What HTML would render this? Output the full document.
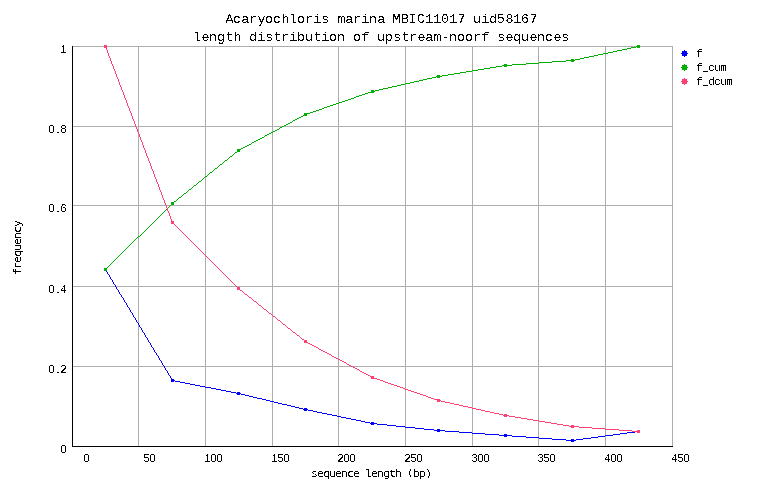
<!DOCTYPE html>
<html lang="en">
<head>
<meta charset="utf-8">
<title>Acaryochloris marina MBIC11017 uid58167 - length distribution of upstream-noorf sequences</title>
<style>
html,body{margin:0;padding:0;background:#fff}
svg{display:block}
text{fill:#000;white-space:pre}
.t{font-family:"Liberation Mono","DejaVu Sans Mono",monospace;font-size:13.333px}
.s{font-family:"DejaVu Sans Mono","Liberation Mono",monospace;font-size:10.5px}
.l{font-family:"Liberation Mono","DejaVu Sans Mono",monospace;font-size:11px}
.d{font-family:"Liberation Sans","DejaVu Sans",sans-serif;font-size:11px}
</style>
</head>
<body>
<svg width="762" height="498" viewBox="0 0 762 498" shape-rendering="crispEdges">
<defs><filter id="ft" x="0" y="0" width="762" height="498" filterUnits="userSpaceOnUse" color-interpolation-filters="sRGB"><feComponentTransfer><feFuncA type="discrete" tableValues="0 0 0 0 0 0 0 0 0 0 1 1 1 1 1 1 1 1 1 1"/></feComponentTransfer></filter><filter id="fs" x="0" y="0" width="762" height="498" filterUnits="userSpaceOnUse" color-interpolation-filters="sRGB"><feComponentTransfer><feFuncA type="discrete" tableValues="0 0 0 0 0 0 0 0 0 0 1 1 1 1 1 1 1 1 1 1"/></feComponentTransfer></filter><filter id="fd" x="0" y="0" width="762" height="498" filterUnits="userSpaceOnUse" color-interpolation-filters="sRGB"><feComponentTransfer><feFuncA type="discrete" tableValues="0 0 0 0 0 0 0 0 0 1 1 1 1 1 1 1 1 1 1 1"/></feComponentTransfer></filter></defs>
<rect width="762" height="498" fill="#fff"/>
<!-- grid -->
<path d="M138 46h1v400h-1zM205 46h1v400h-1zM272 46h1v400h-1zM338 46h1v400h-1zM405 46h1v400h-1zM472 46h1v400h-1zM538 46h1v400h-1zM605 46h1v400h-1zM672 46h1v400h-1zM73 46h600v1h-600zM73 126h600v1h-600zM73 205h600v1h-600zM73 286h600v1h-600zM73 366h600v1h-600z" fill="#adadad"/>
<!-- series: f, f_cum, f_dcum -->
<path d="M104 268h3v1h-3zM104 269h3v1h-3zM104 270h3v1h-3zM106 271h1v1h-1zM107 272h1v1h-1zM107 273h1v1h-1zM108 274h1v1h-1zM109 275h1v1h-1zM109 276h1v1h-1zM110 277h1v1h-1zM110 278h1v1h-1zM111 279h1v1h-1zM112 280h1v1h-1zM112 281h1v1h-1zM113 282h1v1h-1zM113 283h1v1h-1zM114 284h1v1h-1zM115 285h1v1h-1zM115 286h1v1h-1zM116 287h1v1h-1zM116 288h1v1h-1zM117 289h1v1h-1zM118 290h1v1h-1zM118 291h1v1h-1zM119 292h1v1h-1zM119 293h1v1h-1zM120 294h1v1h-1zM121 295h1v1h-1zM121 296h1v1h-1zM122 297h1v1h-1zM123 298h1v1h-1zM123 299h1v1h-1zM124 300h1v1h-1zM124 301h1v1h-1zM125 302h1v1h-1zM126 303h1v1h-1zM126 304h1v1h-1zM127 305h1v1h-1zM127 306h1v1h-1zM128 307h1v1h-1zM129 308h1v1h-1zM129 309h1v1h-1zM130 310h1v1h-1zM130 311h1v1h-1zM131 312h1v1h-1zM132 313h1v1h-1zM132 314h1v1h-1zM133 315h1v1h-1zM133 316h1v1h-1zM134 317h1v1h-1zM135 318h1v1h-1zM135 319h1v1h-1zM136 320h1v1h-1zM136 321h1v1h-1zM137 322h1v1h-1zM138 323h1v1h-1zM138 324h1v1h-1zM139 325h1v1h-1zM139 326h1v1h-1zM140 327h1v1h-1zM141 328h1v1h-1zM141 329h1v1h-1zM142 330h1v1h-1zM142 331h1v1h-1zM143 332h1v1h-1zM144 333h1v1h-1zM144 334h1v1h-1zM145 335h1v1h-1zM145 336h1v1h-1zM146 337h1v1h-1zM147 338h1v1h-1zM147 339h1v1h-1zM148 340h1v1h-1zM148 341h1v1h-1zM149 342h1v1h-1zM150 343h1v1h-1zM150 344h1v1h-1zM151 345h1v1h-1zM151 346h1v1h-1zM152 347h1v1h-1zM153 348h1v1h-1zM153 349h1v1h-1zM154 350h1v1h-1zM154 351h1v1h-1zM155 352h1v1h-1zM156 353h1v1h-1zM156 354h1v1h-1zM157 355h1v1h-1zM158 356h1v1h-1zM158 357h1v1h-1zM159 358h1v1h-1zM159 359h1v1h-1zM160 360h1v1h-1zM161 361h1v1h-1zM161 362h1v1h-1zM162 363h1v1h-1zM162 364h1v1h-1zM163 365h1v1h-1zM164 366h1v1h-1zM164 367h1v1h-1zM165 368h1v1h-1zM165 369h1v1h-1zM166 370h1v1h-1zM167 371h1v1h-1zM167 372h1v1h-1zM168 373h1v1h-1zM168 374h1v1h-1zM169 375h1v1h-1zM170 376h1v1h-1zM170 377h1v1h-1zM171 378h1v1h-1zM171 379h3v1h-3zM171 380h4v1h-4zM171 381h3v1h-3zM175 381h5v1h-5zM180 382h5v1h-5zM185 383h5v1h-5zM190 384h5v1h-5zM195 385h5v1h-5zM200 386h5v1h-5zM205 387h6v1h-6zM211 388h5v1h-5zM216 389h5v1h-5zM221 390h5v1h-5zM226 391h5v1h-5zM231 392h5v1h-5zM237 392h3v1h-3zM236 393h5v1h-5zM237 394h3v1h-3zM241 394h4v1h-4zM245 395h4v1h-4zM249 396h4v1h-4zM253 397h4v1h-4zM257 398h5v1h-5zM262 399h4v1h-4zM266 400h4v1h-4zM270 401h4v1h-4zM274 402h4v1h-4zM278 403h4v1h-4zM282 404h5v1h-5zM287 405h4v1h-4zM291 406h4v1h-4zM295 407h4v1h-4zM299 408h4v1h-4zM304 408h3v1h-3zM303 409h5v1h-5zM304 410h3v1h-3zM308 410h5v1h-5zM313 411h4v1h-4zM317 412h5v1h-5zM322 413h5v1h-5zM327 414h5v1h-5zM332 415h5v1h-5zM337 416h4v1h-4zM341 417h5v1h-5zM346 418h5v1h-5zM351 419h5v1h-5zM356 420h5v1h-5zM361 421h4v1h-4zM365 422h5v1h-5zM371 422h3v1h-3zM370 423h7v1h-7zM371 424h3v1h-3zM377 424h10v1h-10zM387 425h9v1h-9zM396 426h9v1h-9zM405 427h10v1h-10zM415 428h9v1h-9zM424 429h10v1h-10zM437 429h3v1h-3zM434 430h11v1h-11zM637 430h3v1h-3zM437 431h3v1h-3zM445 431h14v1h-14zM635 431h5v1h-5zM459 432h13v1h-13zM627 432h8v1h-8zM637 432h3v1h-3zM472 433h13v1h-13zM620 433h7v1h-7zM485 434h14v1h-14zM504 434h3v1h-3zM613 434h7v1h-7zM499 435h13v1h-13zM605 435h8v1h-8zM504 436h3v1h-3zM512 436h14v1h-14zM598 436h7v1h-7zM526 437h13v1h-13zM591 437h7v1h-7zM539 438h13v1h-13zM583 438h8v1h-8zM552 439h14v1h-14zM571 439h3v1h-3zM576 439h7v1h-7zM566 440h10v1h-10zM571 441h3v1h-3z" fill="#0000ff"/>
<path d="M637 45h3v1h-3zM636 46h4v1h-4zM631 47h5v1h-5zM637 47h3v1h-3zM627 48h4v1h-4zM622 49h5v1h-5zM617 50h5v1h-5zM613 51h4v1h-4zM608 52h5v1h-5zM603 53h5v1h-5zM598 54h5v1h-5zM594 55h4v1h-4zM589 56h5v1h-5zM584 57h5v1h-5zM580 58h4v1h-4zM571 59h3v1h-3zM575 59h5v1h-5zM566 60h9v1h-9zM552 61h14v1h-14zM571 61h3v1h-3zM539 62h13v1h-13zM526 63h13v1h-13zM504 64h3v1h-3zM512 64h14v1h-14zM502 65h10v1h-10zM496 66h6v1h-6zM504 66h3v1h-3zM490 67h6v1h-6zM484 68h6v1h-6zM478 69h6v1h-6zM472 70h6v1h-6zM466 71h6v1h-6zM460 72h6v1h-6zM454 73h6v1h-6zM448 74h6v1h-6zM437 75h3v1h-3zM442 75h6v1h-6zM436 76h6v1h-6zM432 77h4v1h-4zM437 77h3v1h-3zM427 78h5v1h-5zM423 79h4v1h-4zM419 80h4v1h-4zM414 81h5v1h-5zM410 82h4v1h-4zM405 83h5v1h-5zM401 84h4v1h-4zM397 85h4v1h-4zM392 86h5v1h-5zM388 87h4v1h-4zM383 88h5v1h-5zM379 89h4v1h-4zM371 90h3v1h-3zM375 90h4v1h-4zM371 91h4v1h-4zM368 92h6v1h-6zM365 93h3v1h-3zM362 94h3v1h-3zM359 95h3v1h-3zM356 96h3v1h-3zM354 97h2v1h-2zM351 98h3v1h-3zM348 99h3v1h-3zM345 100h3v1h-3zM342 101h3v1h-3zM339 102h3v1h-3zM336 103h3v1h-3zM333 104h3v1h-3zM330 105h3v1h-3zM327 106h3v1h-3zM324 107h3v1h-3zM322 108h2v1h-2zM319 109h3v1h-3zM316 110h3v1h-3zM313 111h3v1h-3zM310 112h3v1h-3zM304 113h6v1h-6zM304 114h3v1h-3zM303 115h4v1h-4zM301 116h2v1h-2zM299 117h2v1h-2zM297 118h2v1h-2zM295 119h2v1h-2zM293 120h2v1h-2zM292 121h1v1h-1zM290 122h2v1h-2zM288 123h2v1h-2zM286 124h2v1h-2zM284 125h2v1h-2zM282 126h2v1h-2zM280 127h2v1h-2zM279 128h1v1h-1zM277 129h2v1h-2zM275 130h2v1h-2zM273 131h2v1h-2zM271 132h2v1h-2zM269 133h2v1h-2zM267 134h2v1h-2zM265 135h2v1h-2zM264 136h1v1h-1zM262 137h2v1h-2zM260 138h2v1h-2zM258 139h2v1h-2zM256 140h2v1h-2zM254 141h2v1h-2zM252 142h2v1h-2zM251 143h1v1h-1zM249 144h2v1h-2zM247 145h2v1h-2zM245 146h2v1h-2zM243 147h2v1h-2zM241 148h2v1h-2zM237 149h4v1h-4zM237 150h3v1h-3zM237 151h3v1h-3zM235 152h2v1h-2zM234 153h1v1h-1zM233 154h1v1h-1zM232 155h1v1h-1zM230 156h2v1h-2zM229 157h1v1h-1zM228 158h1v1h-1zM227 159h1v1h-1zM225 160h2v1h-2zM224 161h1v1h-1zM223 162h1v1h-1zM222 163h1v1h-1zM220 164h2v1h-2zM219 165h1v1h-1zM218 166h1v1h-1zM217 167h1v1h-1zM215 168h2v1h-2zM214 169h1v1h-1zM213 170h1v1h-1zM212 171h1v1h-1zM210 172h2v1h-2zM209 173h1v1h-1zM208 174h1v1h-1zM207 175h1v1h-1zM205 176h2v1h-2zM204 177h1v1h-1zM203 178h1v1h-1zM202 179h1v1h-1zM201 180h1v1h-1zM199 181h2v1h-2zM198 182h1v1h-1zM197 183h1v1h-1zM196 184h1v1h-1zM194 185h2v1h-2zM193 186h1v1h-1zM192 187h1v1h-1zM191 188h1v1h-1zM189 189h2v1h-2zM188 190h1v1h-1zM187 191h1v1h-1zM186 192h1v1h-1zM184 193h2v1h-2zM183 194h1v1h-1zM182 195h1v1h-1zM181 196h1v1h-1zM179 197h2v1h-2zM178 198h1v1h-1zM177 199h1v1h-1zM176 200h1v1h-1zM174 201h2v1h-2zM171 202h3v1h-3zM171 203h3v1h-3zM171 204h3v1h-3zM170 205h1v1h-1zM169 206h1v1h-1zM168 207h1v1h-1zM167 208h1v1h-1zM166 209h1v1h-1zM165 210h1v1h-1zM164 211h1v1h-1zM163 212h1v1h-1zM162 213h1v1h-1zM161 214h1v1h-1zM160 215h1v1h-1zM159 216h1v1h-1zM158 217h1v1h-1zM157 218h1v1h-1zM156 219h1v1h-1zM155 220h1v1h-1zM154 221h1v1h-1zM153 222h1v1h-1zM152 223h1v1h-1zM151 224h1v1h-1zM150 225h1v1h-1zM149 226h1v1h-1zM148 227h1v1h-1zM147 228h1v1h-1zM146 229h1v1h-1zM145 230h1v1h-1zM144 231h1v1h-1zM143 232h1v1h-1zM142 233h1v1h-1zM141 234h1v1h-1zM140 235h1v1h-1zM138 236h2v1h-2zM137 237h1v1h-1zM136 238h1v1h-1zM135 239h1v1h-1zM134 240h1v1h-1zM133 241h1v1h-1zM132 242h1v1h-1zM131 243h1v1h-1zM130 244h1v1h-1zM129 245h1v1h-1zM128 246h1v1h-1zM127 247h1v1h-1zM126 248h1v1h-1zM125 249h1v1h-1zM124 250h1v1h-1zM123 251h1v1h-1zM122 252h1v1h-1zM121 253h1v1h-1zM120 254h1v1h-1zM119 255h1v1h-1zM118 256h1v1h-1zM117 257h1v1h-1zM116 258h1v1h-1zM115 259h1v1h-1zM114 260h1v1h-1zM113 261h1v1h-1zM112 262h1v1h-1zM111 263h1v1h-1zM110 264h1v1h-1zM109 265h1v1h-1zM108 266h1v1h-1zM107 267h1v1h-1zM104 268h3v1h-3zM104 269h3v1h-3zM104 270h3v1h-3z" fill="#00b000"/>
<path d="M104 45h3v1h-3zM104 46h3v1h-3zM104 47h3v1h-3zM106 48h1v1h-1zM106 49h1v1h-1zM107 50h1v1h-1zM107 51h1v1h-1zM107 52h1v1h-1zM108 53h1v1h-1zM108 54h1v1h-1zM108 55h1v1h-1zM109 56h1v1h-1zM109 57h1v1h-1zM110 58h1v1h-1zM110 59h1v1h-1zM110 60h1v1h-1zM111 61h1v1h-1zM111 62h1v1h-1zM111 63h1v1h-1zM112 64h1v1h-1zM112 65h1v1h-1zM113 66h1v1h-1zM113 67h1v1h-1zM113 68h1v1h-1zM114 69h1v1h-1zM114 70h1v1h-1zM115 71h1v1h-1zM115 72h1v1h-1zM115 73h1v1h-1zM116 74h1v1h-1zM116 75h1v1h-1zM116 76h1v1h-1zM117 77h1v1h-1zM117 78h1v1h-1zM118 79h1v1h-1zM118 80h1v1h-1zM118 81h1v1h-1zM119 82h1v1h-1zM119 83h1v1h-1zM119 84h1v1h-1zM120 85h1v1h-1zM120 86h1v1h-1zM121 87h1v1h-1zM121 88h1v1h-1zM121 89h1v1h-1zM122 90h1v1h-1zM122 91h1v1h-1zM123 92h1v1h-1zM123 93h1v1h-1zM123 94h1v1h-1zM124 95h1v1h-1zM124 96h1v1h-1zM124 97h1v1h-1zM125 98h1v1h-1zM125 99h1v1h-1zM126 100h1v1h-1zM126 101h1v1h-1zM126 102h1v1h-1zM127 103h1v1h-1zM127 104h1v1h-1zM127 105h1v1h-1zM128 106h1v1h-1zM128 107h1v1h-1zM129 108h1v1h-1zM129 109h1v1h-1zM129 110h1v1h-1zM130 111h1v1h-1zM130 112h1v1h-1zM131 113h1v1h-1zM131 114h1v1h-1zM131 115h1v1h-1zM132 116h1v1h-1zM132 117h1v1h-1zM132 118h1v1h-1zM133 119h1v1h-1zM133 120h1v1h-1zM134 121h1v1h-1zM134 122h1v1h-1zM134 123h1v1h-1zM135 124h1v1h-1zM135 125h1v1h-1zM135 126h1v1h-1zM136 127h1v1h-1zM136 128h1v1h-1zM137 129h1v1h-1zM137 130h1v1h-1zM137 131h1v1h-1zM138 132h1v1h-1zM138 133h1v1h-1zM139 134h1v1h-1zM139 135h1v1h-1zM139 136h1v1h-1zM140 137h1v1h-1zM140 138h1v1h-1zM140 139h1v1h-1zM141 140h1v1h-1zM141 141h1v1h-1zM142 142h1v1h-1zM142 143h1v1h-1zM142 144h1v1h-1zM143 145h1v1h-1zM143 146h1v1h-1zM143 147h1v1h-1zM144 148h1v1h-1zM144 149h1v1h-1zM145 150h1v1h-1zM145 151h1v1h-1zM145 152h1v1h-1zM146 153h1v1h-1zM146 154h1v1h-1zM146 155h1v1h-1zM147 156h1v1h-1zM147 157h1v1h-1zM148 158h1v1h-1zM148 159h1v1h-1zM148 160h1v1h-1zM149 161h1v1h-1zM149 162h1v1h-1zM150 163h1v1h-1zM150 164h1v1h-1zM150 165h1v1h-1zM151 166h1v1h-1zM151 167h1v1h-1zM151 168h1v1h-1zM152 169h1v1h-1zM152 170h1v1h-1zM153 171h1v1h-1zM153 172h1v1h-1zM153 173h1v1h-1zM154 174h1v1h-1zM154 175h1v1h-1zM154 176h1v1h-1zM155 177h1v1h-1zM155 178h1v1h-1zM156 179h1v1h-1zM156 180h1v1h-1zM156 181h1v1h-1zM157 182h1v1h-1zM157 183h1v1h-1zM158 184h1v1h-1zM158 185h1v1h-1zM158 186h1v1h-1zM159 187h1v1h-1zM159 188h1v1h-1zM159 189h1v1h-1zM160 190h1v1h-1zM160 191h1v1h-1zM161 192h1v1h-1zM161 193h1v1h-1zM161 194h1v1h-1zM162 195h1v1h-1zM162 196h1v1h-1zM162 197h1v1h-1zM163 198h1v1h-1zM163 199h1v1h-1zM164 200h1v1h-1zM164 201h1v1h-1zM164 202h1v1h-1zM165 203h1v1h-1zM165 204h1v1h-1zM166 205h1v1h-1zM166 206h1v1h-1zM166 207h1v1h-1zM167 208h1v1h-1zM167 209h1v1h-1zM167 210h1v1h-1zM168 211h1v1h-1zM168 212h1v1h-1zM169 213h1v1h-1zM169 214h1v1h-1zM169 215h1v1h-1zM170 216h1v1h-1zM170 217h1v1h-1zM170 218h1v1h-1zM171 219h1v1h-1zM171 220h1v1h-1zM171 221h3v1h-3zM171 222h3v1h-3zM171 223h3v1h-3zM174 224h1v1h-1zM175 225h1v1h-1zM176 226h1v1h-1zM177 227h1v1h-1zM178 228h1v1h-1zM179 229h1v1h-1zM180 230h1v1h-1zM181 231h1v1h-1zM182 232h1v1h-1zM183 233h1v1h-1zM184 234h1v1h-1zM185 235h1v1h-1zM186 236h1v1h-1zM187 237h1v1h-1zM188 238h1v1h-1zM189 239h1v1h-1zM190 240h1v1h-1zM191 241h1v1h-1zM192 242h1v1h-1zM193 243h1v1h-1zM194 244h1v1h-1zM195 245h1v1h-1zM196 246h1v1h-1zM197 247h1v1h-1zM198 248h1v1h-1zM199 249h1v1h-1zM200 250h1v1h-1zM201 251h1v1h-1zM202 252h1v1h-1zM203 253h1v1h-1zM204 254h1v1h-1zM205 255h1v1h-1zM206 256h1v1h-1zM207 257h1v1h-1zM208 258h1v1h-1zM209 259h1v1h-1zM210 260h1v1h-1zM211 261h1v1h-1zM212 262h1v1h-1zM213 263h1v1h-1zM214 264h1v1h-1zM215 265h1v1h-1zM216 266h1v1h-1zM217 267h1v1h-1zM218 268h1v1h-1zM219 269h1v1h-1zM220 270h1v1h-1zM221 271h1v1h-1zM222 272h1v1h-1zM223 273h1v1h-1zM224 274h1v1h-1zM225 275h1v1h-1zM226 276h1v1h-1zM227 277h1v1h-1zM228 278h1v1h-1zM229 279h1v1h-1zM230 280h1v1h-1zM231 281h1v1h-1zM232 282h1v1h-1zM233 283h1v1h-1zM234 284h1v1h-1zM235 285h1v1h-1zM236 286h1v1h-1zM237 287h3v1h-3zM237 288h3v1h-3zM237 289h3v1h-3zM240 290h2v1h-2zM242 291h1v1h-1zM243 292h1v1h-1zM244 293h1v1h-1zM245 294h2v1h-2zM247 295h1v1h-1zM248 296h1v1h-1zM249 297h2v1h-2zM251 298h1v1h-1zM252 299h1v1h-1zM253 300h1v1h-1zM254 301h2v1h-2zM256 302h1v1h-1zM257 303h1v1h-1zM258 304h1v1h-1zM259 305h2v1h-2zM261 306h1v1h-1zM262 307h1v1h-1zM263 308h1v1h-1zM264 309h2v1h-2zM266 310h1v1h-1zM267 311h1v1h-1zM268 312h1v1h-1zM269 313h2v1h-2zM271 314h1v1h-1zM272 315h1v1h-1zM273 316h2v1h-2zM275 317h1v1h-1zM276 318h1v1h-1zM277 319h1v1h-1zM278 320h2v1h-2zM280 321h1v1h-1zM281 322h1v1h-1zM282 323h1v1h-1zM283 324h2v1h-2zM285 325h1v1h-1zM286 326h1v1h-1zM287 327h1v1h-1zM288 328h2v1h-2zM290 329h1v1h-1zM291 330h1v1h-1zM292 331h1v1h-1zM293 332h2v1h-2zM295 333h1v1h-1zM296 334h1v1h-1zM297 335h2v1h-2zM299 336h1v1h-1zM300 337h1v1h-1zM301 338h1v1h-1zM302 339h2v1h-2zM304 340h3v1h-3zM304 341h3v1h-3zM304 342h4v1h-4zM308 343h2v1h-2zM310 344h2v1h-2zM312 345h2v1h-2zM314 346h2v1h-2zM316 347h2v1h-2zM318 348h1v1h-1zM319 349h2v1h-2zM321 350h2v1h-2zM323 351h2v1h-2zM325 352h2v1h-2zM327 353h2v1h-2zM329 354h2v1h-2zM331 355h1v1h-1zM332 356h2v1h-2zM334 357h2v1h-2zM336 358h2v1h-2zM338 359h2v1h-2zM340 360h2v1h-2zM342 361h2v1h-2zM344 362h2v1h-2zM346 363h1v1h-1zM347 364h2v1h-2zM349 365h2v1h-2zM351 366h2v1h-2zM353 367h2v1h-2zM355 368h2v1h-2zM357 369h2v1h-2zM359 370h1v1h-1zM360 371h2v1h-2zM362 372h2v1h-2zM364 373h2v1h-2zM366 374h2v1h-2zM368 375h2v1h-2zM370 376h4v1h-4zM371 377h3v1h-3zM371 378h6v1h-6zM377 379h3v1h-3zM380 380h3v1h-3zM383 381h2v1h-2zM385 382h3v1h-3zM388 383h3v1h-3zM391 384h3v1h-3zM394 385h3v1h-3zM397 386h3v1h-3zM400 387h3v1h-3zM403 388h2v1h-2zM405 389h3v1h-3zM408 390h3v1h-3zM411 391h3v1h-3zM414 392h3v1h-3zM417 393h3v1h-3zM420 394h3v1h-3zM423 395h3v1h-3zM426 396h2v1h-2zM428 397h3v1h-3zM431 398h3v1h-3zM434 399h6v1h-6zM437 400h4v1h-4zM437 401h3v1h-3zM441 401h4v1h-4zM445 402h5v1h-5zM450 403h4v1h-4zM454 404h5v1h-5zM459 405h4v1h-4zM463 406h5v1h-5zM468 407h4v1h-4zM472 408h4v1h-4zM476 409h5v1h-5zM481 410h4v1h-4zM485 411h5v1h-5zM490 412h4v1h-4zM494 413h5v1h-5zM499 414h4v1h-4zM504 414h3v1h-3zM503 415h6v1h-6zM504 416h3v1h-3zM509 416h6v1h-6zM515 417h6v1h-6zM521 418h6v1h-6zM527 419h6v1h-6zM533 420h6v1h-6zM539 421h6v1h-6zM545 422h6v1h-6zM551 423h6v1h-6zM557 424h6v1h-6zM563 425h6v1h-6zM571 425h3v1h-3zM569 426h10v1h-10zM571 427h3v1h-3zM579 427h13v1h-13zM592 428h13v1h-13zM605 429h14v1h-14zM619 430h13v1h-13zM637 430h3v1h-3zM632 431h8v1h-8zM637 432h3v1h-3z" fill="#ff4070"/>
<!-- axes -->
<path d="M72 46h1v400h-1zM72 446h601v1h-601z" fill="#000"/>
<!-- title -->
<g filter="url(#ft)">
<text class="t" x="225.6 233.1 241.35 249.1 257.6 265.1 273.1 281.6 289.1 297.1 305.1 313.35 321.35 329.1 337.6 345.35 353.1 361.35 369.1 377.35 385.1 392.6 401.1 408.85 417.1 425.35 433.35 441.1 449.35 457.6 465.1 473.1 481.35 489.35 496.85 505.6 513.35 521.1 529.6" y="23">Acaryochloris marina MBIC11017 uid58167</text>
<text class="t" x="193.1 201.6 209.1 217.1 225.6 233.6 241.1 249.35 257.35 265.35 273.6 281.1 289.35 297.1 305.1 313.6 321.35 329.1 337.1 345.1 353.1 361.6 369.1 377.1 384.85 393.35 401.6 409.1 417.6 425.35 433.6 441.6 449.1 457.1 465.1 473.1 481.6 489.1 497.35 505.6 513.35 521.1 529.6 537.1 545.1 553.6 561.35" y="41">length distribution of upstream-noorf sequences</text>
</g>
<!-- tick labels -->
<g filter="url(#fd)">
<text class="d" x="60.6" y="53">1</text>
<text class="d" x="48.6 56.6 60.6" y="133">0.8</text>
<text class="d" x="48.6 56.6 60.6" y="212">0.6</text>
<text class="d" x="48.6 56.6 60.6" y="293">0.4</text>
<text class="d" x="48.6 56.6 60.6" y="373">0.2</text>
<text class="d" x="60.6" y="453">0</text>
<text class="d" x="83.6" y="462">0</text>
<text class="d" x="143.6 149.6" y="462">50</text>
<text class="d" x="204.6 210.6 216.6" y="462">100</text>
<text class="d" x="271.6 277.6 283.6" y="462">150</text>
<text class="d" x="337.6 343.6 349.6" y="462">200</text>
<text class="d" x="404.6 410.6 416.6" y="462">250</text>
<text class="d" x="471.6 477.6 483.6" y="462">300</text>
<text class="d" x="537.6 543.6 549.6" y="462">350</text>
<text class="d" x="604.6 610.6 616.6" y="462">400</text>
<text class="d" x="671.6 677.6 683.6" y="462">450</text>
</g>
<!-- axis titles and legend -->
<g filter="url(#fs)">
<text class="s" transform="scale(1.1 1)" x="282.818 288.273 293.955 299.182 304.636 310.091 315.545 321 326.455 331.909 337.364 342.818 348.5 353.727 359.182 364.636 369.864 375.318 380.773 386.682" y="477 477 477 477 477 477 477 477 477 477 477 477 477 477 477 477 476 477 477 477">sequence length (bp)</text>
<text class="s" transform="translate(21 275) rotate(-90) scale(1.1 1)" x="0.091 5.545 11 16.682 21.909 27.364 32.818 38.273 43.727" y="0">frequency</text>
<text class="l" x="696.35" y="57">f</text>
<text class="l" x="696.35 702.35 708.35 714.35 720.35" y="71">f_cum</text>
<text class="l" x="696.35 702.35 708.35 714.35 720.35 726.35" y="85">f_dcum</text>
</g>
<path d="M682 51h5v5h-5zM681 53h7v1h-7zM684 50h1v7h-1z" fill="#0000ff"/>
<path d="M682 65h5v5h-5zM681 67h7v1h-7zM684 64h1v7h-1z" fill="#00b000"/>
<path d="M682 79h5v5h-5zM681 81h7v1h-7zM684 78h1v7h-1z" fill="#ff4070"/>
</svg>
</body>
</html>
